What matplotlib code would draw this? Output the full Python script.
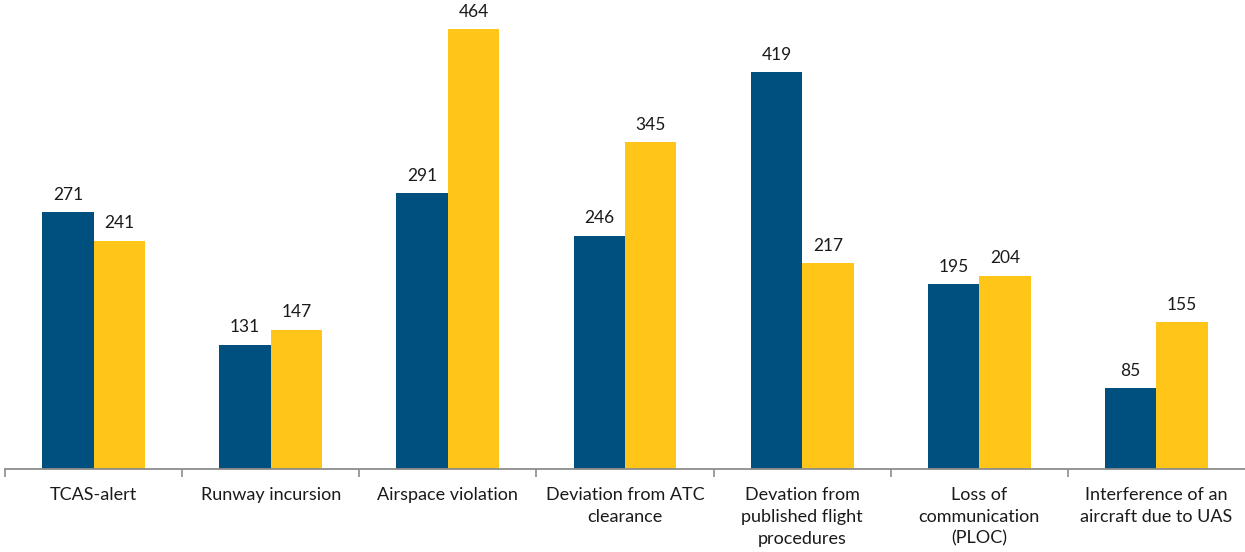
import matplotlib
matplotlib.use("Agg")
import matplotlib.pyplot as plt
import numpy as np

categories = [
    "TCAS-alert",
    "Runway incursion",
    "Airspace violation",
    "Deviation from ATC\nclearance",
    "Devation from\npublished flight\nprocedures",
    "Loss of\ncommunication\n(PLOC)",
    "Interference of an\naircraft due to UAS",
]
series_a = [271, 131, 291, 246, 419, 195, 85]
series_b = [241, 147, 464, 345, 217, 204, 155]

blue = "#00507F"
yellow = "#FFC619"

plt.rcParams["font.family"] = ["Lato", "DejaVu Sans"]

fig = plt.figure(figsize=(12.45, 5.52), dpi=100)
ax = fig.add_axes([5 / 1245, 83 / 552, 1 - 5 / 1245, 469 / 552])

x = np.arange(len(categories))
w = 0.29
bars_a = ax.bar(x - w / 2, series_a, width=w, color=blue)
bars_b = ax.bar(x + w / 2, series_b, width=w, color=yellow)

for bars, vals in ((bars_a, series_a), (bars_b, series_b)):
    for b, v in zip(bars, vals):
        ax.text(b.get_x() + b.get_width() / 2, v + 10, str(v),
                ha="center", va="bottom", fontsize=12.5, color="#1a1a1a")

ax.set_xlim(-0.5, len(categories) - 0.5)
ax.set_ylim(0, 495)

for s in ("top", "right", "left"):
    ax.spines[s].set_visible(False)
ax.spines["bottom"].set_color("#8c8c8c")
ax.spines["bottom"].set_linewidth(1.3)

ax.set_yticks([])
ax.set_xticks(x)
ax.set_xticklabels(categories, fontsize=13, color="#1a1a1a", linespacing=1.45)
ax.tick_params(axis="x", which="major", length=0, pad=13)
ax.set_xticks(np.arange(len(categories)) - 0.5, minor=True)
ax.tick_params(axis="x", which="minor", length=6, width=1.2, color="#8c8c8c")

fig.savefig("out.png", dpi=100)
